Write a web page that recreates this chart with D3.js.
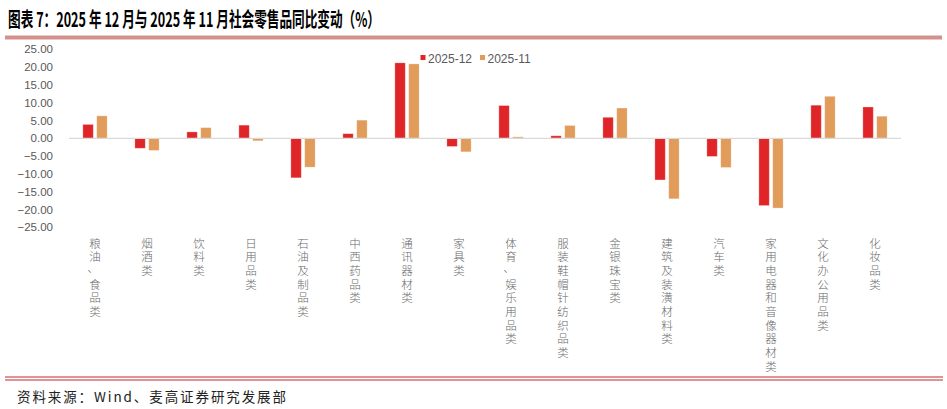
<!DOCTYPE html>
<html>
<head>
<meta charset="utf-8">
<script src="https://cdn.jsdelivr.net/npm/d3@7/dist/d3.min.js"></script>
<style>
  html, body { margin: 0; padding: 0; background: #fff; }
  svg { display: block; }
</style>
</head>
<body>
<svg id="chart" width="947" height="409"></svg>
<script>
const titleText = "图表 7：2025 年 12 月与 2025 年 11 月社会零售品同比变动（%）";
const sourceText = "资料来源：Wind、麦高证券研究发展部";
const categories = ["粮油、食品类","烟酒类","饮料类","日用品类","石油及制品类","中西药品类","通讯器材类","家具类","体育、娱乐用品类","服装鞋帽针纺织品类","金银珠宝类","建筑及装潢材料类","汽车类","家用电器和音像器材类","文化办公用品类","化妆品类"];
const seriesNames = ["2025-12", "2025-11"];
const dec2025 = [3.9, -2.8, 1.8, 3.7, -11.1, 1.3, 21.2, -2.3, 9.2, 0.7, 5.9, -11.7, -5.1, -18.9, 9.3, 8.8];
const nov2025 = [6.3, -3.4, 3.0, -0.7, -8.1, 5.1, 20.9, -3.8, 0.4, 3.6, 8.5, -17.0, -8.2, -19.6, 11.8, 6.2];
const yTicks = [25, 20, 15, 10, 5, 0, -5, -10, -15, -20, -25];
const colors = ["#df2527", "#e19b5a"];

const svg = d3.select("#chart");
const cjk = "'Noto Sans CJK SC', 'Noto Sans', sans-serif";

// Title
svg.append("text")
  .attr("x", 8).attr("y", 27)
  .attr("font-family", cjk).attr("font-weight", "bold")
  .attr("font-size", 20).attr("fill", "#000")
  .attr("textLength", 372).attr("lengthAdjust", "spacingAndGlyphs")
  .style("white-space", "pre")
  .text(titleText);
svg.append("rect").attr("x", 5).attr("y", 35.5).attr("width", 937).attr("height", 4).attr("fill", "#d4908b");

// Scales
const x0 = d3.scaleBand().domain(categories).range([69, 901]).paddingInner(0).paddingOuter(0);
const y = d3.scaleLinear().domain([-25, 25]).range([227.3, 49.3]);
const x1 = d3.scaleBand().domain(seriesNames).range([0, x0.bandwidth()]).paddingInner(0.25).paddingOuter(1.0);

// Y axis labels
const yAxis = d3.axisLeft(y).tickValues(yTicks).tickSize(0).tickPadding(0).tickFormat(d => d3.format(".2f")(d).replace("-", "−"));
const ga = svg.append("g").attr("transform", "translate(53,0)").call(yAxis);
ga.select(".domain").remove();
ga.selectAll("text").attr("font-family", "'Liberation Sans', Arial, sans-serif").attr("font-size", 11.5).attr("fill", "#595959");

// Bars
const data = categories.map((c, i) => ({ c, vals: [dec2025[i], nov2025[i]] }));
const g = svg.append("g");
data.forEach(d => {
  d.vals.forEach((v, j) => {
    g.append("rect")
      .attr("x", x0(d.c) + x1(seriesNames[j]))
      .attr("width", x1.bandwidth())
      .attr("y", y(Math.max(0, v)))
      .attr("height", Math.abs(y(v) - y(0)))
      .attr("fill", colors[j])
      .attr("stroke", "#fff").attr("stroke-opacity", 0.35).attr("stroke-width", 0.8);
  });
});

// Zero line
svg.append("line").attr("x1", 69).attr("x2", 901).attr("y1", y(0)).attr("y2", y(0))
  .attr("stroke", "#d9d9d9").attr("stroke-width", 1.2);

// Category labels (vertical, one character per line)
const lab = svg.append("g");
categories.forEach(c => {
  const cx = x0(c) + x0.bandwidth() / 2;
  Array.from(c).forEach((ch, k) => {
    lab.append("text")
      .attr("x", ch === "、" ? cx - 2 : cx)
      .attr("y", 243.5 + k * 13.7 + (ch === "、" ? -3 : 0))
      .attr("text-anchor", "middle").attr("dominant-baseline", "central")
      .attr("font-family", "'Liberation Sans', 'Noto Sans CJK SC', sans-serif").attr("font-size", 11.5).attr("font-weight", 300)
      .attr("fill", "#6a6a6a")
      .text(ch);
  });
});

// Legend
const leg = svg.append("g");
const legX = [420.5, 480];
seriesNames.forEach((s, i) => {
  leg.append("rect").attr("x", legX[i]).attr("y", 55).attr("width", 5).attr("height", 5).attr("fill", colors[i]);
  leg.append("text").attr("x", legX[i] + 7.5).attr("y", 58.5)
    .attr("dominant-baseline", "central")
    .attr("font-family", "'Liberation Sans', Arial, sans-serif").attr("font-size", 12)
    .attr("fill", "#595959").text(s);
});

// Bottom double line
svg.append("line").attr("x1", 5).attr("x2", 943).attr("y1", 377).attr("y2", 377).attr("stroke", "#c0282d").attr("stroke-width", 1);
svg.append("line").attr("x1", 5).attr("x2", 943).attr("y1", 380).attr("y2", 380).attr("stroke", "#c0282d").attr("stroke-width", 1);

// Source
svg.append("text").attr("x", 17).attr("y", 402)
  .attr("font-family", cjk).attr("font-size", 13.5).attr("fill", "#222")
  .attr("textLength", 269).attr("lengthAdjust", "spacing")
  .text(sourceText);
</script>
</body>
</html>
